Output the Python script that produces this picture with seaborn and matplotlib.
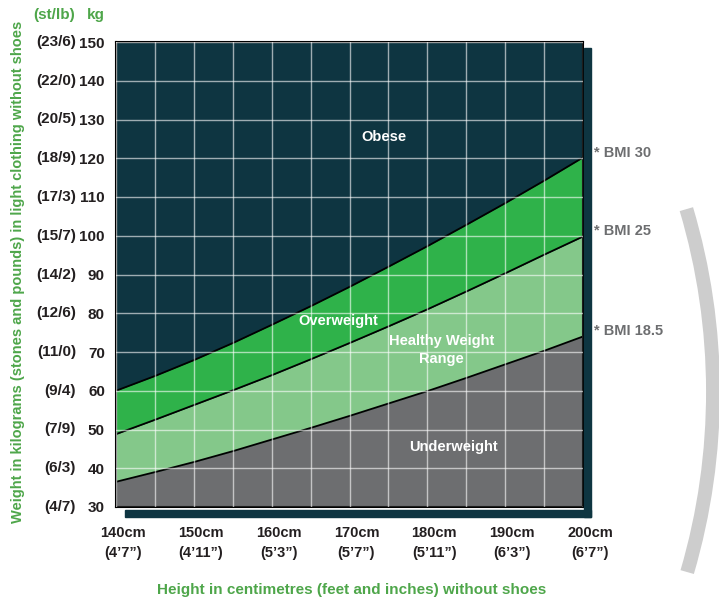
import numpy as np
import pandas as pd
import seaborn as sns
import matplotlib.pyplot as plt
from matplotlib.patches import Rectangle, Arc
from matplotlib.transforms import Bbox, TransformedBbox, offset_copy

# dados (altura em cm, peso em kg)
altura = [140, 145, 150, 155, 160, 165, 170, 175, 180, 185, 190, 195, 200]
bmi_18_5 = [36.5, 39.0, 41.6, 44.4, 47.4, 50.4, 53.5, 56.7, 59.9, 63.3, 66.8, 70.3, 74.0]
bmi_25 = [48.8, 52.5, 56.3, 60.1, 64.0, 68.1, 72.3, 76.6, 81.0, 85.6, 90.3, 95.1, 99.8]
bmi_30 = [60.0, 63.8, 67.9, 72.3, 77.0, 81.8, 86.8, 92.0, 97.3, 102.8, 108.4, 114.2, 120.2]

kg_ticks = [30, 40, 50, 60, 70, 80, 90, 100, 110, 120, 130, 140, 150]
stlb_labels = ["(4/7)", "(6/3)", "(7/9)", "(9/4)", "(11/0)", "(12/6)", "(14/2)",
               "(15/7)", "(17/3)", "(18/9)", "(20/5)", "(22/0)", "(23/6)"]
cm_ticks = [140, 150, 160, 170, 180, 190, 200]
pes_labels = ["(4’7”)", "(4’11”)", "(5’3”)", "(5’7”)", "(5’11”)", "(6’3”)", "(6’7”)"]

cor_obeso = "#0e3541"
cor_sobrepeso = "#2fb24a"
cor_saudavel = "#84c88a"
cor_abaixo = "#6d6e70"
cor_verde_txt = "#4ea64a"
cor_txt = "#231f20"

sns.set_theme(style="white")
plt.rcParams['font.family'] = ['Liberation Sans', 'DejaVu Sans']
plt.rcParams['font.weight'] = 'bold'

tabela = pd.DataFrame({"altura": altura, "18.5": bmi_18_5, "25": bmi_25, "30": bmi_30})

fig = plt.figure(figsize=(7.19, 6.01), dpi=100)

# sombra atrás do gráfico
fig.patches.append(Rectangle((584 / 719, 84 / 601), 7 / 719, 469 / 601,
                             transform=fig.transFigure, color=cor_obeso, zorder=0))
fig.patches.append(Rectangle((125 / 719, 84 / 601), 466 / 719, 7 / 601,
                             transform=fig.transFigure, color=cor_obeso, zorder=0))

# arco cinza decorativo (cortado à esquerda em x=677px)
arco = Arc((72 / 719, 209 / 601), 2 * 641 / 719, 2 * 641 / 601, theta1=-19.3, theta2=19.6,
           transform=fig.transFigure, color="#cdcdcd", lw=10, zorder=0)
arco.set_clip_box(TransformedBbox(Bbox([[677 / 719, 0], [1, 1]]), fig.transFigure))
fig.patches.append(arco)

ax = fig.add_axes([116 / 719, 94 / 601, 467 / 719, 465 / 601])
ax.set_facecolor(cor_obeso)

# regiões
ax.fill_between(tabela["altura"], 30, tabela["18.5"], color=cor_abaixo, lw=0)
ax.fill_between(tabela["altura"], tabela["18.5"], tabela["25"], color=cor_saudavel, lw=0)
ax.fill_between(tabela["altura"], tabela["25"], tabela["30"], color=cor_sobrepeso, lw=0)

for col in ["18.5", "25", "30"]:
    sns.lineplot(data=tabela, x="altura", y=col, ax=ax, color="black", lw=1.3)

ax.set_xlim(140, 200)
ax.set_ylim(30, 150)
ax.set_xticks(np.arange(140, 201, 5))
ax.set_yticks(kg_ticks)
ax.grid(True, color="white", lw=1, alpha=0.6)
ax.set_axisbelow(False)
for s in ax.spines.values():
    s.set_color("black")
    s.set_linewidth(1.5)

ax.set_xticklabels([])
ax.set_yticklabels([str(k) for k in kg_ticks], fontsize=11, color=cor_txt)
ax.tick_params(axis="y", length=0, pad=8)
ax.tick_params(axis="x", length=0)
ax.set_xlabel("")
ax.set_ylabel("")

# rótulos do eixo x (cm e pés)
trans_x = offset_copy(ax.get_xaxis_transform(), fig=fig, x=7, y=0, units="dots")
for cm, pe in zip(cm_ticks, pes_labels):
    ax.text(cm, -0.055, f"{cm}cm", transform=trans_x, ha="center", va="center",
            fontsize=10.5, color=cor_txt)
    ax.text(cm, -0.1, pe, transform=trans_x, ha="center", va="center",
            fontsize=10.5, color=cor_txt)

# rótulos st/lb
trans_y = ax.get_yaxis_transform()
for k, st in zip(kg_ticks, stlb_labels):
    ax.text(-0.0857, k, st, transform=trans_y, ha="right", va="center",
            fontsize=11, color=cor_txt)

fig.text(75 / 719, 1 - 15 / 601, "(st/lb)", ha="right", va="center", fontsize=11, color=cor_verde_txt)
fig.text(105 / 719, 1 - 15 / 601, "kg", ha="right", va="center", fontsize=11, color=cor_verde_txt)

fig.text(18 / 719, 1 - 272 / 601, "Weight in kilograms (stones and pounds) in light clothing without shoes",
         rotation=90, ha="center", va="center", fontsize=10.5, color=cor_verde_txt)
fig.text(352 / 719, 1 - 590 / 601, "Height in centimetres (feet and inches) without shoes",
         ha="center", va="center", fontsize=11, color=cor_verde_txt)

# nomes das faixas
ax.text(174.4, 125.5, "Obese", ha="center", va="center", color="white", fontsize=10.5)
ax.text(168.5, 78, "Overweight", ha="center", va="center", color="white", fontsize=10.5)
ax.text(181.8, 70.5, "Healthy Weight\nRange", ha="center", va="center", color="white",
        fontsize=10.5, linespacing=1.4)
ax.text(183.4, 45.5, "Underweight", ha="center", va="center", color="white", fontsize=10.5)

# rótulos BMI à direita
for y_px, txt in [(153, "* BMI 30"), (231, "* BMI 25"), (331, "* BMI 18.5")]:
    fig.text(594 / 719, 1 - y_px / 601, txt, ha="left", va="center", fontsize=10.5, color=cor_abaixo)

plt.savefig("out.png", dpi=100)
